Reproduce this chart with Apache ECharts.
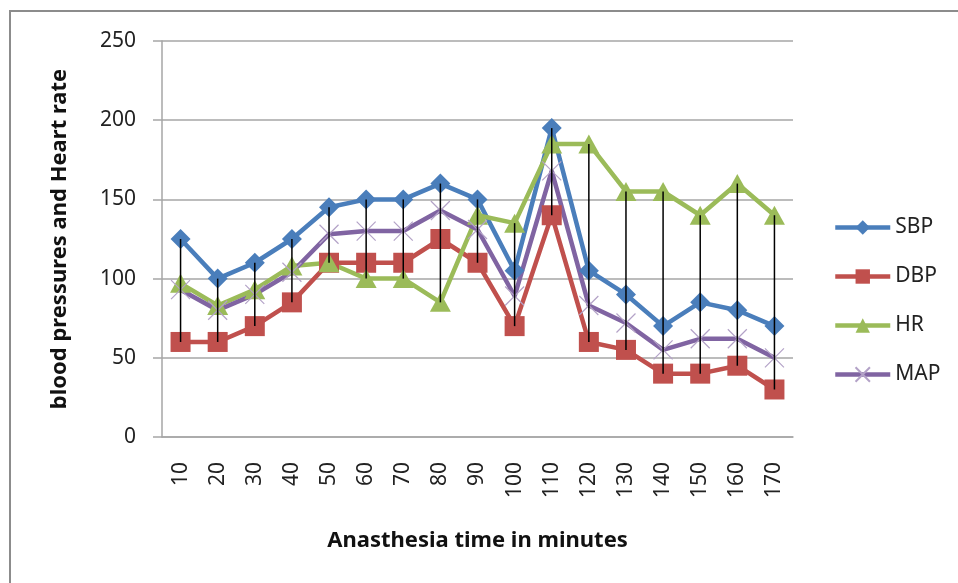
<!DOCTYPE html>
<html>
<head>
<meta charset="utf-8">
<script src="https://cdn.jsdelivr.net/npm/echarts@6/dist/echarts.min.js"></script>
<style>
  html, body { margin: 0; padding: 0; background: #fff; }
  #chart { width: 958px; height: 583px; }
</style>
</head>
<body>
<div id="chart"></div>
<script>
// time points (minutes)
var minutes = ['10','20','30','40','50','60','70','80','90','100','110','120','130','140','150','160','170'];

// values
var sbp = [125, 100, 110, 125, 145, 150, 150, 160, 150, 105, 195, 105, 90, 70, 85, 80, 70];
var dbp = [60, 60, 70, 85, 110, 110, 110, 125, 110, 70, 140, 60, 55, 40, 40, 45, 30];
var hr  = [97, 83, 93, 108, 110, 100, 100, 85, 140, 135, 185, 185, 155, 155, 140, 160, 140];
var map = [93, 80, 90, 104, 128, 130, 130, 143, 131, 89, 168, 83, 72, 55, 62, 62, 50];

var yTicks = [0, 50, 100, 150, 200, 250];

// high-low lines: max/min of all series at each time point
var hiLo = minutes.map(function (m, i) {
    var vals = [sbp[i], dbp[i], hr[i], map[i]];
    return [i, Math.max.apply(null, vals), Math.min.apply(null, vals)];
});

var font = 'Noto Sans';
var gridColor = '#a6a6a6';

var chart = echarts.init(document.getElementById('chart'));

chart.setOption({
    animation: false,
    textStyle: { fontFamily: font },
    graphic: [{
        type: 'rect',
        shape: { x: 10, y: 11, width: 1000, height: 1000 },
        style: { fill: null, stroke: '#8c8c8c', lineWidth: 2 },
        silent: true
    }],
    grid: { left: 162, top: 41, width: 631, height: 396 },
    legend: {
        orient: 'vertical',
        left: 833,
        top: 217,
        padding: 0,
        itemWidth: 55,
        itemHeight: 18,
        itemGap: 28,
        lineStyle: { width: 4.5 },
        textStyle: { fontFamily: font, fontSize: 21, color: '#222', lineHeight: 21 },
        data: ['SBP', 'DBP', 'HR', 'MAP']
    },
    xAxis: {
        type: 'category',
        data: minutes,
        boundaryGap: true,
        axisLine: { lineStyle: { color: gridColor, width: 1.5 } },
        axisTick: { show: false },
        axisLabel: { rotate: 90, margin: 25, fontSize: 21, color: '#222', fontFamily: font },
        name: 'Anasthesia time in minutes',
        nameLocation: 'middle',
        nameGap: 93,
        nameTextStyle: { fontSize: 22, fontWeight: 'bold', color: '#111', fontFamily: font }
    },
    yAxis: {
        type: 'value',
        min: yTicks[0],
        max: yTicks[yTicks.length - 1],
        interval: 50,
        axisLine: { show: true, lineStyle: { color: gridColor, width: 1.5 } },
        axisTick: { show: true, length: 9, lineStyle: { color: gridColor, width: 1.5 } },
        splitLine: { lineStyle: { color: gridColor, width: 1.5 } },
        axisLabel: { margin: 26, fontSize: 21, color: '#222', fontFamily: font },
        name: 'blood pressures and Heart rate',
        nameLocation: 'middle',
        nameGap: 91,
        nameTextStyle: { fontSize: 22, fontWeight: 'bold', color: '#111', fontFamily: font }
    },
    series: [
        {
            name: 'SBP', type: 'line', data: sbp,
            symbol: 'diamond', symbolSize: 20,
            lineStyle: { color: '#4a7ebb', width: 4.5 },
            itemStyle: { color: '#4a7ebb' }
        },
        {
            name: 'DBP', type: 'line', data: dbp,
            symbol: 'rect', symbolSize: 20,
            lineStyle: { color: '#c0504d', width: 4.5 },
            itemStyle: { color: '#c0504d' }
        },
        {
            name: 'HR', type: 'line', data: hr,
            symbol: 'triangle', symbolSize: [21, 19],
            lineStyle: { color: '#9bbb59', width: 4.5 },
            itemStyle: { color: '#9bbb59' }
        },
        {
            name: 'MAP', type: 'line', data: map,
            symbol: 'path://M0,0L10,10M10,0L0,10', symbolSize: 19,
            lineStyle: { color: '#8064a2', width: 4.5 },
            itemStyle: { color: 'rgba(0,0,0,0)', borderColor: '#b3a2c7', borderWidth: 1.2 }
        },
        {
            name: 'hilo', type: 'custom', data: hiLo, z: 10,
            silent: true,
            renderItem: function (params, api) {
                var top = api.coord([api.value(0), api.value(1)]);
                var bot = api.coord([api.value(0), api.value(2)]);
                return {
                    type: 'line',
                    shape: { x1: top[0], y1: top[1], x2: bot[0], y2: bot[1] },
                    style: { stroke: '#000', lineWidth: 1.5 }
                };
            },
            encode: { x: 0, y: [1, 2] }
        }
    ]
});
</script>
</body>
</html>
